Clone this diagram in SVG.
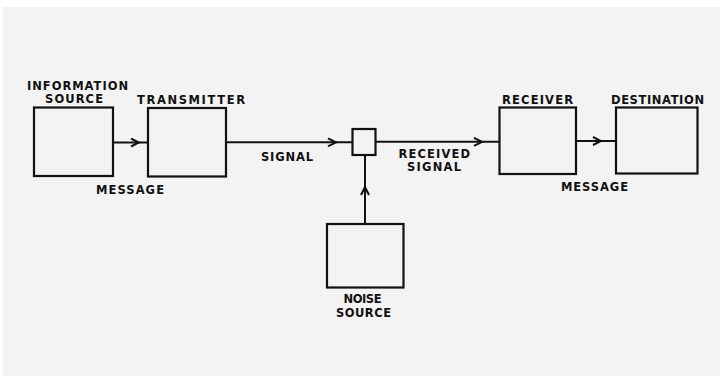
<svg xmlns="http://www.w3.org/2000/svg" width="720" height="376" viewBox="0 0 720 376">
<defs>
<style>
.box{fill:none;stroke:#111;stroke-width:2.2}
.ln{fill:none;stroke:#111;stroke-width:2}
.t{font-family:"DejaVu Sans","Liberation Sans",Arial,sans-serif;font-weight:bold;font-size:11.5px;fill:#111}
</style>
<marker id="ah" viewBox="0 0 10 10" refX="9" refY="5" markerWidth="10" markerHeight="10" markerUnits="userSpaceOnUse" orient="auto">
<path d="M1,1 L9,5 L1,9" fill="none" stroke="#111" stroke-width="2"/>
</marker>
</defs>
<rect x="0" y="0" width="720" height="376" fill="#ffffff"/>
<rect x="3" y="7" width="717" height="369" fill="#f3f3f3"/>
<g id="connectors">
<path class="ln" d="M113,142.5 L139,142.5 L148,142.5" marker-mid="url(#ah)"/>
<path class="ln" d="M226,142.3 L336,142.3 L352,142.3" marker-mid="url(#ah)"/>
<path class="ln" d="M375,141.8 L482,141.8 L499,141.8" marker-mid="url(#ah)"/>
<path class="ln" d="M576,141 L601,141 L616,141" marker-mid="url(#ah)"/>
<path class="ln" d="M365,224 L365,187 L365,155" marker-mid="url(#ah)"/>
</g>
<g id="information-source">
<rect class="box" x="34" y="107.5" width="79" height="68.5"/>
<text class="t" x="27" y="90" textLength="101" lengthAdjust="spacing">INFORMATION</text>
<text class="t" x="45" y="102.5" textLength="58" lengthAdjust="spacing">SOURCE</text>
</g>
<g id="transmitter">
<rect class="box" x="148" y="108" width="78" height="68.5"/>
<text class="t" x="137" y="104.3" textLength="108" lengthAdjust="spacing">TRANSMITTER</text>
</g>
<g id="message-label-1">
<text class="t" x="96" y="194" textLength="68" lengthAdjust="spacing">MESSAGE</text>
</g>
<g id="signal-label">
<text class="t" x="261" y="161" textLength="52" lengthAdjust="spacing">SIGNAL</text>
</g>
<g id="mixer">
<rect class="box" x="352.5" y="129" width="23" height="26"/>
</g>
<g id="received-signal-label">
<text class="t" x="398.5" y="157.7" textLength="71.5" lengthAdjust="spacing">RECEIVED</text>
<text class="t" x="407" y="171" textLength="54" lengthAdjust="spacing">SIGNAL</text>
</g>
<g id="noise-source">
<rect class="box" x="327" y="224" width="76.5" height="63.5"/>
<text class="t" x="343.5" y="303.3" textLength="38" lengthAdjust="spacing">NOISE</text>
<text class="t" x="336" y="316.7" textLength="55" lengthAdjust="spacing">SOURCE</text>
</g>
<g id="receiver">
<rect class="box" x="499.5" y="107.5" width="76.5" height="66.5"/>
<text class="t" x="502" y="104.3" textLength="71" lengthAdjust="spacing">RECEIVER</text>
</g>
<g id="destination">
<rect class="box" x="616" y="107.5" width="81.5" height="66"/>
<text class="t" x="611" y="104.3" textLength="93" lengthAdjust="spacing">DESTINATION</text>
</g>
<g id="message-label-2">
<text class="t" x="561" y="191" textLength="67" lengthAdjust="spacing">MESSAGE</text>
</g>
</svg>
